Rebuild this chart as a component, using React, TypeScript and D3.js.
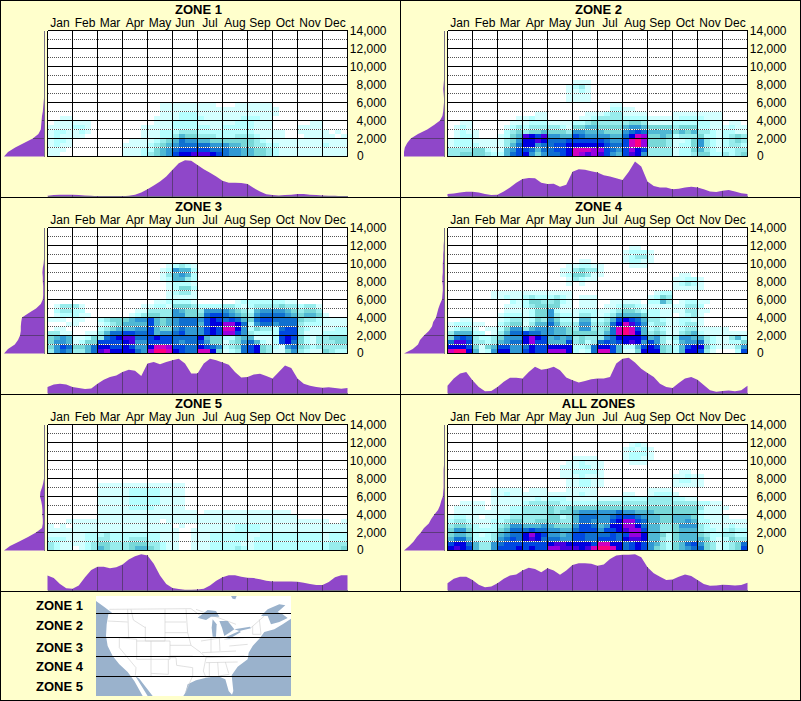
import React from 'react';
import * as d3 from 'd3';

const months = ['Jan', 'Feb', 'Mar', 'Apr', 'May', 'Jun', 'Jul', 'Aug', 'Sep', 'Oct', 'Nov', 'Dec'];
const yTicks = [0, 2000, 4000, 6000, 8000, 10000, 12000, 14000];
const yMinor = [1000, 3000, 5000, 7000, 9000, 11000, 13000];
const legendZones = ['ZONE 1', 'ZONE 2', 'ZONE 3', 'ZONE 4', 'ZONE 5'];

// heat levels, one string per 500 step from the bottom, 4 cells per month
// . = none, 1-9 then a-d = increasing density
const zone1Heat = [
  '11.. .... .... 1112 3456 899a aa98 7665 5443 2111 1111 1111 ....',
  '111. .... .... 1112 2456 7888 8877 7665 5443 2111 1111 1111 ....',
  '1211 .... .... 1111 2345 6777 7766 6554 4332 2111 1111 2111 ....',
  '1221 .... .... .111 1234 5766 5544 4444 4321 1111 1111 1111 ....',
  '1211 11.. .... ...1 1122 3544 3332 2233 3211 11.. .111 11.1',
  '1221 121. .... ...1 1122 2333 2222 2222 2111 11.. 1111 1.1.',
  '1111 221. .... ...1 1111 2222 2211 2222 2111 .... 1111 ....',
  '.111 111. .... .... .111 2222 1111 1122 2111 .... ..11 ....',
  '..11 .... .... .... .111 1222 2111 1112 2211 .... .... ....',
  '.... .... .... .... ..11 1222 1111 1111 1111 1... .... ....',
  '.... .... .... .... ..11 1111 1111 1111 1111 1... .... ....',
  '.... .... .... .... ..11 1111 111. ..11 1111 .... .... ....',
];
const zone2Heat = [
  '3344 4432 2578 9646 7789 cbab a865 8a96 3333 1223 4422 3234',
  '3333 4421 1568 8757 7889 cccb b876 8b98 3333 1224 5321 2233',
  '1222 2111 1357 9967 7889 9999 9877 8cdb 4443 1224 6321 2332',
  '1222 1111 1346 99a9 7778 8888 8766 8cdb 4443 1124 6321 2343',
  '.122 1... 1245 a98a 6655 8766 6655 79cb 4454 2333 4221 2343',
  '.121 1... .234 3445 4443 6655 5444 6787 5555 4545 3321 2211',
  '.121 .... .123 2333 3321 4455 4444 5665 4444 3444 2211 1211',
  '..11 .... ..11 1222 1111 2234 3333 3443 1111 2222 2211 .11.',
  '.... .... ...1 1211 .... .112 3333 2222 1111 1222 2111 ....',
  '.... .... .... ..11 .... ..11 1233 1111 .... 1111 1111 ....',
  '.... .... .... .... .... .... ..22 11.. .... .... .... ....',
  '.... .... .... .... .... .... ..11 .... .... .... .... ....',
  '.... .... .... .... ...1 111. .... .... .... .... .... ....',
  '.... .... .... .... ...1 111. .... .... .... .... .... ....',
  '.... .... .... .... ...1 121. .... .... .... .... .... ....',
  '.... .... .... .... ...1 231. .... .... .... .... .... ....',
  '.... .... .... .... .... 111. .... .... .... .... .... ....',
];
const zone3Heat = [
  '3676 3357 ab99 9976 bddc 9877 cc94 1237 8943 1146 3211 4322',
  '4687 4457 9988 9866 9ccb 8877 9876 2347 8943 2167 4323 3333',
  '4665 1244 8888 9a66 8888 7677 8644 1346 7521 2897 4213 3344',
  '4565 1124 3789 aa77 8988 7777 9544 2245 5111 2898 4213 3444',
  '3311 ..11 3577 8877 8566 7866 6898 bb86 3222 2888 3111 2222',
  '.11. .... 2345 5566 8544 6766 6898 cc96 2433 2788 3211 1122',
  '...1 1... 1234 5555 8545 6777 5899 bb97 2677 6777 3222 1111',
  '111. 11.. 2344 4566 8545 6777 6898 7875 4788 7777 4332 1111',
  '.122 211. .... .123 4433 6644 4788 7654 3677 7765 4554 1...',
  '.233 22.. .... ..11 3333 6544 3666 6543 2566 6654 3443 ....',
  '.133 31.. .... ...1 1221 4443 2222 3321 2333 3433 2331 ....',
  '.... .... .... .... .112 2221 .... ..12 2222 2211 .... ....',
  '.... .... .... .... ...1 1111 .... .... .... .... .... ....',
  '.... .... .... .... ...1 2331 .... .... .... .... .... ....',
  '.... .... .... .... ...1 2442 .... .... .... .... .... ....',
  '.... .... .... .... ...1 2221 .... .... .... .... .... ....',
  '.... .... .... .... ..12 5532 .... .... .... .... .... ....',
  '.... .... .... .... ..13 5652 .... .... .... .... .... ....',
  '.... .... .... .... ..12 6552 .... .... .... .... .... ....',
  '.... .... .... .... ...1 2321 .... .... .... .... .... ....',
];
const zone4Heat = [
  'cdd9 5126 9966 8988 bbb9 2127 cc85 1149 9943 2599 831. ..28',
  '9998 4145 8866 7988 9999 2237 9985 2258 9843 2589 9421 1136',
  '7aa8 3323 5677 9b88 5558 3423 7878 9a96 8631 2566 7321 1224',
  '4787 3223 4666 9b98 5656 3433 3679 9998 5632 3665 5321 1352',
  '3555 22.1 3577 8776 6554 4444 357c dc95 3431 1345 2111 1111',
  '1233 1.11 2466 3566 6554 3663 347c dc85 2321 1233 1111 1...',
  '1222 11.. 2344 1355 7533 3663 3479 ca86 2331 1233 1... ....',
  '..11 .... 1233 1243 6422 1552 2358 9875 3321 1221 1... ....',
  '.... .... 1222 1244 6322 1332 1235 5554 2211 .123 1... ....',
  '.... .... .111 1244 6211 1222 1123 4432 2211 1133 11.. ....',
  '.... .... .111 2344 4411 .111 .112 3321 1111 1133 2... ....',
  '.... .... ..21 2443 3421 .111 ..11 111. 2253 .122 11.. ....',
  '.... ...1 1211 2322 2321 .111 .... .... 1243 .... .... ....',
  '.... ...1 1111 1111 1111 .... .... .... .122 .... .... ....',
  '.... .... .... .... .... .... .... .... .... 1111 1... ....',
  '.... .... .... .... ...1 .1.. .... .... .... 1232 1... ....',
  '.... .... .... .... ...1 3211 .... .... .... 1122 1... ....',
  '.... .... .... .... ..12 4431 1... .... .... .11. .... ....',
  '.... .... .... .... ..11 3433 1... .... .... .... .... ....',
  '.... .... .... .... ...1 1221 1... .111 .... .... .... ....',
  '.... .... .... .... .... .11. .... 1221 1... .... .... ....',
  '.... .... .... .... .... .... .... 1233 1... .... .... ....',
  '.... .... .... .... .... .... .... 1222 1... .... .... ....',
  '.... .... .... .... .... .... .... .11. .... .... .... ....',
];
const zone5Heat = [
  '3211 .123 5433 3455 4321 1..1 1122 2232 1222 2222 2222 2334',
  '3211 1123 4433 3444 3321 1..1 1122 2221 1222 2222 2222 2333',
  '2221 1122 3322 2333 2211 1..1 1122 2222 1222 2222 2222 1222',
  '1111 1122 2322 2222 2211 1..1 1122 2222 1122 2222 2222 1222',
  '1111 1111 1111 1111 1111 1..1 1111 1122 2211 1111 1111 1111',
  '1.1. 1111 1111 1111 1111 .1.. 1111 1122 2211 1111 1111 1111',
  '...1 1111 1111 1111 11.1 1111 1111 1111 1111 1111 1111 1..1',
  '.... .... 1111 1111 1111 1111 1111 1111 1111 1111 .... ....',
  '.... .... 1111 1111 1111 1111 .111 1111 1111 111. .... ....',
  '.... .... 1111 1222 2111 11.. .... .... .... .... .... ....',
  '.... .... 1111 1222 2211 11.. .... .... .... .... .... ....',
  '.... .... 1111 1222 2211 11.. .... .... .... .... .... ....',
  '.... .... 1111 1222 2211 11.. .... .... .... .... .... ....',
  '.... .... 1111 1222 2211 11.. .... .... .... .... .... ....',
  '.... .... 1111 1111 1111 11.. .... .... .... .... .... ....',
];
const allZonesHeat = [
  '9a98 5336 8889 8988 bbaa a9ac ddc9 7898 6432 4567 7431 2348',
  '8997 5336 7888 8888 9aa9 9998 cc99 7898 6532 4578 6431 2347',
  '5775 2223 6787 9a97 7766 8877 8887 9aa9 5532 4555 5421 2433',
  '4554 2123 5677 9b98 6656 8877 7787 8bb9 5542 4555 4322 3322',
  '4664 2222 4577 7877 6655 7888 6889 abb8 5533 4555 3221 2322',
  '3443 2112 3466 5556 5444 6887 5699 bb97 5533 4666 3211 1211',
  '2332 1112 2344 3344 4433 5776 6689 bb87 5544 5565 2211 1111',
  '1221 1.11 2233 3333 4423 5777 6678 8876 5544 5554 2111 1...',
  '.111 1111 1122 3333 4344 5666 6667 6655 5444 4444 2111 ....',
  '.111 11.1 1122 3333 4334 4444 4444 4444 4444 4444 3111 1...',
  '..11 11.1 1111 2333 3322 2222 3333 3333 3333 3333 2211 ....',
  '.... ...1 1111 1121 2221 1111 1111 2222 3333 2211 .... ....',
  '.... ...1 1211 1111 1111 1211 .... 11.. 1222 1... .... ....',
  '.... ...1 1111 .111 ...1 1111 .... .... 1111 .... .... ....',
  '.... .... .... .... ...1 1221 1... .... .... 1111 1... ....',
  '.... .... .... .... ...1 1221 1... .... .... 1221 1... ....',
  '.... .... .... .... ..11 1211 1... .... .... 1121 1... ....',
  '.... .... .... .... ..11 2222 1... .... .... .11. .... ....',
  '.... .... .... .... ..11 1221 1... .... .... .... .... ....',
  '.... .... .... .... ...1 1211 1... .111 .... .... .... ....',
  '.... .... .... .... .... 1111 .... 1221 1... .... .... ....',
  '.... .... .... .... .... .... .... 1222 1... .... .... ....',
  '.... .... .... .... .... .... .... 1212 1... .... .... ....',
  '.... .... .... .... .... .... .... .121 .... .... .... ....',
];

// share of the busiest month position, 4 steps per month
const zone1Month = [2, 4, 5, 5, 5, 4, 3, 2, 1, 1, 1, 1, 1, 2, 5, 11, 20, 30, 41, 55, 73, 91, 99, 98, 86, 75, 65, 55, 43, 38, 38, 37, 34, 23, 14, 6, 4, 3, 4, 5, 7, 7, 5, 4, 3, 2, 2, 1, 1];
const zone2Month = [7, 8, 11, 13, 13, 11, 7, 4, 5, 14, 25, 38, 48, 51, 50, 38, 34, 35, 27, 32, 68, 75, 73, 69, 66, 58, 55, 50, 45, 68, 96, 82, 41, 29, 25, 25, 20, 21, 25, 27, 25, 20, 14, 12, 16, 18, 14, 9, 7];
const zone3Month = [18, 25, 27, 25, 18, 15, 12, 14, 27, 38, 45, 49, 59, 65, 62, 48, 82, 86, 80, 86, 91, 95, 82, 55, 55, 82, 95, 91, 85, 79, 59, 44, 45, 52, 54, 48, 41, 59, 77, 70, 41, 27, 21, 18, 16, 17, 15, 13, 15];
const zone4Month = [21, 41, 55, 59, 36, 18, 6, 7, 18, 32, 43, 43, 41, 59, 73, 65, 68, 73, 64, 44, 36, 30, 34, 39, 41, 41, 45, 82, 95, 98, 85, 68, 56, 45, 27, 18, 15, 29, 41, 45, 38, 23, 9, 5, 7, 8, 6, 9, 21];
const zone5Month = [41, 34, 18, 6, 5, 14, 36, 56, 65, 65, 61, 64, 71, 85, 94, 99, 96, 73, 41, 18, 7, 4, 2, 2, 3, 5, 14, 27, 36, 42, 42, 38, 35, 34, 31, 27, 25, 25, 25, 25, 24, 21, 18, 15, 15, 23, 36, 42, 42];
const allZonesMonth = [20, 32, 38, 38, 29, 16, 9, 11, 20, 32, 41, 44, 55, 62, 59, 50, 61, 55, 43, 55, 70, 75, 75, 73, 68, 71, 86, 96, 98, 98, 99, 91, 64, 47, 38, 29, 30, 38, 44, 40, 29, 18, 13, 14, 16, 15, 14, 15, 21];

// share of the busiest height, one value per 500 step from the bottom
const zone1Height = [100, 90, 72, 50, 28, 14, 8, 7, 6, 5, 3, 2, 1, 0];
const zone2Height = [100, 100, 98, 92, 83, 65, 42, 25, 10, 4, 2, 1, 0, 0, 1, 2, 1, 0];
const zone3Height = [100, 90, 73, 65, 60, 58, 58, 57, 55, 38, 20, 8, 3, 2, 2, 2, 3, 3, 4, 3, 1, 0];
const zone4Height = [100, 78, 65, 60, 50, 38, 30, 27, 20, 17, 14, 10, 5, 4, 3, 3, 4, 4, 3, 3, 3, 2, 2, 1, 1, 0];
const zone5Height = [100, 85, 62, 40, 20, 5, 3, 3, 4, 4, 5, 7, 10, 9, 5, 2, 0];
const allZonesHeight = [100, 87, 76, 68, 58, 50, 38, 32, 24, 15, 10, 7, 3, 2, 1, 1, 1, 1, 1, 0];

const panels = [
  { title: 'ZONE 1', heat: zone1Heat, month: zone1Month, height: zone1Height },
  { title: 'ZONE 2', heat: zone2Heat, month: zone2Month, height: zone2Height },
  { title: 'ZONE 3', heat: zone3Heat, month: zone3Month, height: zone3Height },
  { title: 'ZONE 4', heat: zone4Heat, month: zone4Month, height: zone4Height },
  { title: 'ZONE 5', heat: zone5Heat, month: zone5Month, height: zone5Height },
  { title: 'ALL ZONES', heat: allZonesHeat, month: allZonesMonth, height: allZonesHeight },
];

const heatColors = ['#ffffff', '#d4ffff', '#b6ffff', '#98ecec', '#78d8d8', '#50b8d4', '#3098d4', '#1070d0', '#0048e0', '#0000e0', '#4800e0', '#9800e0', '#d000c0', '#ff0080'];
const PURPLE = '#8f47c9';
const DARK_PURPLE = '#5c3a7c';
const WATER = '#9ab2cc';
const FONT = '"Liberation Sans", Arial, sans-serif';

const color = d3.scaleOrdinal<number, string>().domain(d3.range(heatColors.length)).range(heatColors);
const x = d3.scaleLinear().domain([0, 12]).range([47.5, 347.5]);
const y = d3.scaleLinear().domain([0, 14000]).range([156.5, 30.5]);
const monthY = d3.scaleLinear().domain([0, 100]).range([196.5, 160]);
const heightX = d3.scaleLinear().domain([0, 100]).range([44, 4]);
const fmt = d3.format(',');

const monthArea = d3.area<number>()
  .x((_, i) => x(i / 4))
  .y0(monthY(0))
  .y1(d => monthY(d));
const heightArea = d3.area<number>()
  .y((_, i) => y(i * 500))
  .x0(heightX(0))
  .x1(d => heightX(d));

function Panel({ title, heat, month, height, dx, dy }: any) {
  const rows: string[] = heat.map((r: string) => r.replace(/ /g, ''));
  return (
    <g transform={`translate(${dx},${dy})`}>
      <text x={198.5} y={14} textAnchor="middle" fontSize={13} fontWeight="bold">{title}</text>
      {months.map((m, i) => (
        <text key={m} x={x(i + 0.5)} y={27} textAnchor="middle" fontSize={12}>{m}</text>
      ))}

      <rect x={x(0)} y={y(14000)} width={x(12) - x(0)} height={y(0) - y(14000)} fill="#fff" />
      <g shapeRendering="crispEdges">
        {rows.map((row, r) => row.split('').map((c, i) => {
          if (c === '.') return null;
          return (
            <rect key={`${r}-${i}`} x={x(i / 4)} y={y((r + 1) * 500)}
              width={x(0.25) - x(0)} height={y(0) - y(500)} fill={color(parseInt(c, 36))} />
          );
        }))}
      </g>

      <g shapeRendering="crispEdges">
        {yMinor.map(v => (
          <g key={v}>
            <line x1={x(0)} x2={x(12)} y1={y(v)} y2={y(v)} stroke="#fff" />
            <line x1={x(0)} x2={x(12)} y1={y(v)} y2={y(v)} stroke="#555" strokeDasharray="1,1" />
          </g>
        ))}
        {yTicks.map(v => (
          <line key={v} x1={x(0)} x2={x(12)} y1={y(v)} y2={y(v)} stroke="#000" />
        ))}
        {d3.range(13).map(i => (
          <line key={i} x1={x(i)} x2={x(i)} y1={y(14000)} y2={y(0)} stroke="#000" />
        ))}
      </g>

      {yTicks.map(v => (
        <text key={v} x={v === 0 ? 357 : 386.5} y={v === 0 ? y(v) + 3 : y(v) + 4.5}
          textAnchor={v === 0 ? 'start' : 'end'} fontSize={12}>{fmt(v)}</text>
      ))}

      <path d={heightArea(height) || ''} fill={PURPLE} />
      <line x1={44.5} x2={44.5} y1={y(14000)} y2={y(0)} stroke="#77708a" shapeRendering="crispEdges" />
      {yTicks.slice(1).map(v => {
        const val = height[v / 500] || 0;
        if (val < 1) return null;
        return <line key={v} x1={heightX(0)} x2={heightX(val)} y1={y(v)} y2={y(v)} stroke={DARK_PURPLE} shapeRendering="crispEdges" />;
      })}

      <path d={monthArea(month) || ''} fill={PURPLE} />
      <line x1={x(0)} x2={x(12)} y1={196.5} y2={196.5} stroke="#77708a" shapeRendering="crispEdges" />
      {d3.range(1, 12).map(i => (
        <line key={i} x1={x(i)} x2={x(i)} y1={monthY(0)} y2={monthY(month[i * 4])} stroke={DARK_PURPLE} shapeRendering="crispEdges" />
      ))}
    </g>
  );
}

function ZoneMap() {
  // rough outline traced at 3x, scaled down to the map box
  const land = 'M0,0 L585,0 L585,68 L560,85 L535,100 L505,108 L490,128 L470,150 L458,170 L455,190 L425,212 L407,238 L412,285 L408,296 L398,285 L388,250 L365,240 L330,245 L300,253 L275,265 L268,290 L262,300 L170,300 L130,248 L118,240 L155,300 L140,300 L115,255 L95,228 L70,205 L50,180 L35,150 L30,120 L32,85 L37,55 L48,50 L25,33 L0,15 Z';
  const lakes = [
    'M305,65 L335,42 L360,45 L370,62 L345,62 L330,72 L315,68 Z',
    'M350,70 L362,85 L360,122 L350,122 L347,95 Z',
    'M370,75 L395,75 L415,100 L400,110 L385,120 L378,95 Z',
    'M385,125 L430,105 L435,108 L400,128 Z',
    'M415,100 L462,92 L465,97 L430,105 Z',
    'M495,60 L515,40 L550,25 L568,28 L545,48 L560,55 L575,66 L550,78 L525,85 L515,60 Z',
    'M405,0 L422,0 L418,10 L410,8 Z',
  ];
  const borders = [
    'M40,40 L285,38 L312,58', 'M35,75 L95,78', 'M95,40 L98,125', 'M105,40 L112,72 L148,95', 'M148,92 L148,135 L207,135 L207,40',
    'M207,78 L270,78', 'M207,110 L275,110', 'M70,125 L122,130 L122,190', 'M70,125 L70,155 L120,215 L118,238', 'M122,135 L165,135 L165,240',
    'M122,190 L222,190', 'M165,135 L222,135 L222,190', 'M222,148 L285,148', 'M222,180 L290,180', 'M217,190 L217,235 L165,232', 'M217,185 L240,185 L242,208 L290,215 L290,240 L268,290',
    'M270,40 L275,110 L285,148 L315,170 L330,185 L322,225 L330,245', 'M315,135 L380,125', 'M318,170 L420,165', 'M330,185 L445,180', 'M330,200 L425,198', 'M340,200 L340,245', 'M365,198 L368,240 L400,235', 'M388,198 L398,232',
    'M370,125 L372,165', 'M345,125 L345,170', 'M385,130 L445,125', 'M400,150 L455,145', 'M470,90 L470,115 L495,115', 'M490,70 L495,115', 'M465,95 L505,60', 'M300,40 L420,85',
  ];
  return (
    <g>
      <svg x={96} y={596} width={195} height={100} viewBox="0 0 585 300">
        <rect width={585} height={300} fill={WATER} />
        <path d={land} fill="#fff" />
        {borders.map((d, i) => <path key={i} d={d} fill="none" stroke="#d2d2d2" strokeWidth={2} />)}
        {lakes.map((d, i) => <path key={i} d={d} fill={WATER} />)}
      </svg>
      {[613.5, 637.5, 656.5, 676.5].map(ly => (
        <line key={ly} x1={96} x2={291} y1={ly} y2={ly} stroke="#000" shapeRendering="crispEdges" />
      ))}
    </g>
  );
}

export default function App() {
  const legendBase = [610, 629.5, 652, 671, 691];
  return (
    <svg width={801} height={701} style={{ position: 'absolute', left: 0, top: 0, fontFamily: FONT }}>
      <rect width={801} height={701} fill="#ffffcc" />
      {panels.map((p, i) => (
        <Panel key={p.title} {...p} dx={i % 2 === 0 ? 0 : 400} dy={Math.floor(i / 2) * 197} />
      ))}
      {legendZones.map((z, i) => (
        <text key={z} x={36} y={legendBase[i]} fontSize={13} fontWeight="bold">{z}</text>
      ))}
      <ZoneMap />
      <g stroke="#000" shapeRendering="crispEdges">
        <rect x={0.5} y={0.5} width={800} height={700} fill="none" />
        <line x1={400.5} x2={400.5} y1={0} y2={591} />
        <line x1={0} x2={801} y1={197.5} y2={197.5} />
        <line x1={0} x2={801} y1={394.5} y2={394.5} />
        <line x1={0} x2={801} y1={591.5} y2={591.5} />
      </g>
    </svg>
  );
}
